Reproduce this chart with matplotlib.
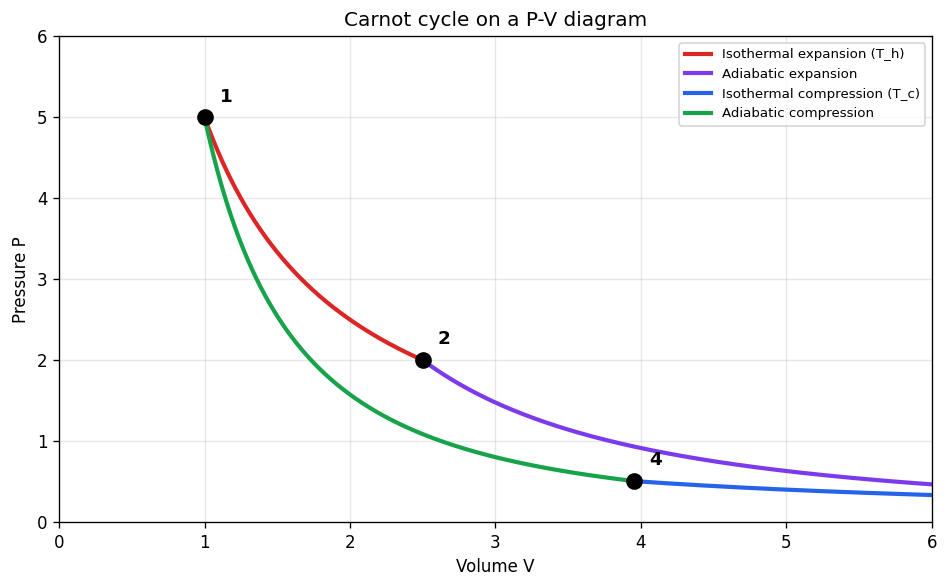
import numpy as np
import matplotlib
matplotlib.use("Agg")
import matplotlib.pyplot as plt

# state parameters
gamma = 5 / 3
V1, P1 = 1.0, 5.0
V2, P2 = 2.5, 2.0
T_c_const = 2.0          # P*V on the cold isotherm
labels_pts = ["1", "2", "4"]

# derived states
T_h_const = P1 * V1
V3 = (P2 * V2 ** gamma / T_c_const) ** (1 / (gamma - 1))
V4 = (P1 * V1 ** gamma / T_c_const) ** (1 / (gamma - 1))
P4 = T_c_const / V4

v12 = np.linspace(V1, V2, 300)
v23 = np.linspace(V2, V3, 300)
v34 = np.linspace(V4, V3, 300)
v41 = np.linspace(V1, V4, 300)

fig = plt.figure(figsize=(949 / 120, 588 / 120), dpi=120)
ax = fig.add_axes([0.0622, 0.1122, 0.9198, 0.826])

ax.plot(v12, T_h_const / v12, color="#dc2626", lw=2.5, label="Isothermal expansion (T_h)")
ax.plot(v23, P2 * (V2 / v23) ** gamma, color="#7c3aed", lw=2.5, label="Adiabatic expansion")
ax.plot(v34, T_c_const / v34, color="#2563eb", lw=2.5, label="Isothermal compression (T_c)")
ax.plot(v41, P1 * (V1 / v41) ** gamma, color="#16a34a", lw=2.5, label="Adiabatic compression")

pts_v = [V1, V2, V4]
pts_p = [P1, P2, P4]
ax.plot(pts_v, pts_p, "o", color="black", ms=9, zorder=5)
for lab, v, p in zip(labels_pts, pts_v, pts_p):
    ax.annotate(lab, (v, p), xytext=(9, 7), textcoords="offset points",
                fontsize=11, fontweight="bold", ha="left", va="bottom")

ax.set_xlim(0, 6)
ax.set_ylim(0, 6)
ax.set_xlabel("Volume V")
ax.set_ylabel("Pressure P")
ax.set_title("Carnot cycle on a P-V diagram")
ax.grid(True, alpha=0.3)
ax.legend(loc="upper right", fontsize=8)

fig.savefig("out.png", dpi=120)
